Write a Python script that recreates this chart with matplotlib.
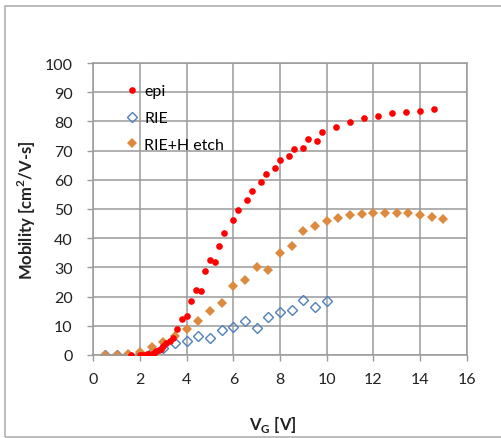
"""
Mobility vs gate voltage for epi, RIE and RIE+H etch samples.
"""
import matplotlib.pyplot as plt
from matplotlib.patches import Rectangle

# epi (red dots)
epi_vg = [1.6, 2.0, 2.1, 2.2, 2.3, 2.4, 2.5, 2.6, 2.7, 2.8, 2.9, 3.0, 3.1, 3.3, 3.4,
          3.6, 3.8, 4.0, 4.2, 4.4, 4.6, 4.8, 5.0, 5.2, 5.4, 5.6, 6.0, 6.2, 6.6,
          6.8, 7.2, 7.4, 7.8, 8.0, 8.4, 8.6, 9.0, 9.2, 9.6, 9.8, 10.4, 11.0,
          11.6, 12.2, 12.8, 13.4, 14.0, 14.6]
epi_mu = [0.0, 0.0, 0.0, 0.1, 0.2, 0.3, 0.5, 0.8, 1.2, 1.6, 2.2, 3.0, 4.0, 4.9, 5.8,
          9.0, 12.4, 13.3, 18.6, 22.3, 22.0, 28.9, 32.5, 31.7, 37.4, 41.8, 46.3,
          49.7, 53.2, 56.3, 59.1, 62.0, 64.0, 66.8, 68.0, 70.5, 70.9, 74.0,
          73.3, 76.5, 78.2, 79.7, 81.2, 82.0, 82.8, 83.3, 83.7, 84.1]

# RIE (blue open diamonds)
rie_vg = [0.5, 1.0, 1.5, 2.0, 2.5, 3.0, 3.5, 4.0, 4.5, 5.0, 5.5, 6.0, 6.5, 7.0,
          7.5, 8.0, 8.5, 9.0, 9.5, 10.0]
rie_mu = [0.0, 0.0, 0.1, 0.3, 1.0, 2.4, 4.0, 4.9, 6.6, 5.8, 8.7, 9.5, 11.8, 9.1,
          13.1, 14.8, 15.5, 18.8, 16.5, 18.4]

# RIE+H etch (orange diamonds)
rieh_vg = [0.5, 1.0, 1.5, 2.0, 2.5, 3.0, 3.5, 4.0, 4.5, 5.0, 5.5, 6.0, 6.5, 7.0,
           7.5, 8.0, 8.5, 9.0, 9.5, 10.0, 10.5, 11.0, 11.5, 12.0, 12.5, 13.0,
           13.5, 14.0, 14.5, 15.0]
rieh_mu = [0.0, 0.1, 0.3, 1.1, 2.6, 4.3, 6.4, 8.9, 11.8, 15.0, 17.7, 23.7, 25.7,
           30.2, 29.1, 34.8, 37.4, 42.6, 44.3, 46.0, 47.0, 47.9, 48.4, 48.5,
           48.7, 48.7, 48.5, 48.0, 47.3, 46.7]

x_ticks = list(range(0, 17, 2))
y_ticks = list(range(0, 101, 10))

plt.rcParams["font.family"] = ["Lato", "DejaVu Sans"]

W, H = 501, 439
fig = plt.figure(figsize=(W / 100, H / 100), dpi=100)
ax = fig.add_axes([93.3 / W, 1 - 356 / H, (466.7 - 93.3) / W, (356 - 64) / H])

# outer chart border
fig.patches.append(Rectangle((5 / W, 1 - 438 / H), (W + 5) / W, (438 - 7) / H,
                             transform=fig.transFigure, fill=False,
                             edgecolor="#b0b0b0", linewidth=1.2))

ax.plot(epi_vg, epi_mu, "o", color="#ff0000", markersize=4.8,
        markeredgewidth=0, label="epi", zorder=3)
ax.plot(rie_vg, rie_mu, "D", markerfacecolor="none", markeredgecolor="#4f81bd",
        markersize=4.6, markeredgewidth=1.0, label="RIE", zorder=2)
ax.plot(rieh_vg, rieh_mu, "D", color="#de8a3e", markersize=5.0,
        markeredgewidth=0, label="RIE+H etch", zorder=2)

ax.set_xlim(0, 16)
ax.set_ylim(0, 100)
ax.set_xticks(x_ticks)
ax.set_yticks(y_ticks)
ax.grid(True, color="#9a9a9a", linewidth=1.1)
ax.set_axisbelow(True)
for s in ax.spines.values():
    s.set_color("#9a9a9a")
    s.set_linewidth(1.1)
ax.tick_params(axis="both", colors="#9a9a9a", labelcolor="#222222",
               labelsize=11.5, length=4, width=1)
ax.tick_params(axis="x", pad=8)
ax.tick_params(axis="y", pad=11)

ax.set_xlabel("V$_\\mathregular{G}$ [V]", fontsize=12, fontweight="bold",
              color="#222222", va="center")
ax.xaxis.set_label_coords(0.481, -0.236)
ax.set_ylabel("Mobility [cm$^\\mathregular{2}$/V-s]", fontsize=12,
              fontweight="bold", color="#222222", va="center")
ax.yaxis.set_label_coords(-0.178, 0.5)

ax.legend(loc="upper left", frameon=False, fontsize=11.5, handletextpad=0.2,
          borderaxespad=0.0, labelspacing=0.8, handlelength=1.2,
          bbox_to_anchor=(0.06, 0.95))

fig.savefig("out.png", dpi=100)
